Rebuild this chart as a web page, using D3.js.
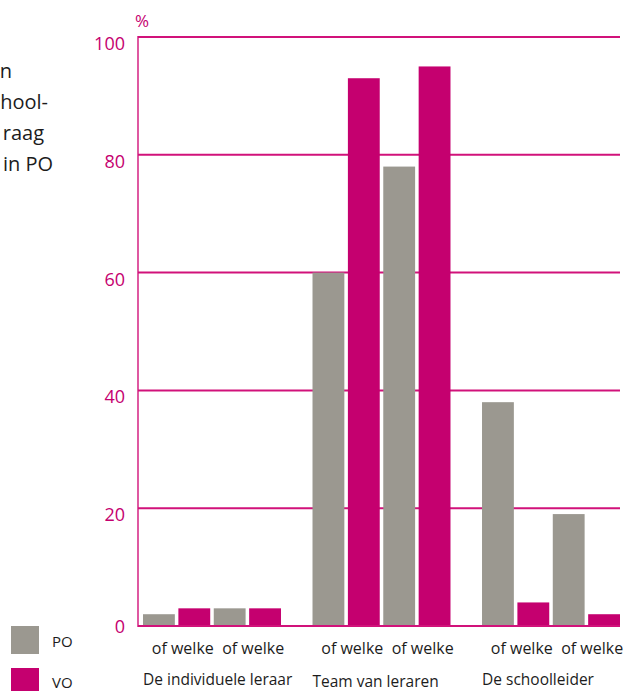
<!DOCTYPE html>
<html>
<head>
<meta charset="utf-8">
<script src="https://cdn.jsdelivr.net/npm/d3@7"></script>
<style>
  html, body { margin: 0; padding: 0; background: #fff; }
  svg { display: block; font-family: "Open Sans", "Noto Sans", sans-serif; }
</style>
</head>
<body>
<svg id="chart" width="632" height="691"></svg>
<script>
// ---- data ----
const groups = ["De individuele leraar", "Team van leraren", "De schoolleider"];
const pairLabels = ["of welke", "of welke"];
const seriesNames = ["PO", "VO"];
// values per group, per pair (pair 1, pair 2)
const poValues = [2, 3, 60, 78, 38, 19];
const voValues = [3, 3, 93, 95, 4, 2];
const yTicks = [0, 20, 40, 60, 80, 100];
const titleFragments = ["n", "hool-", "raag", "in PO"];

// ---- styling ----
const grey = "#9b9890";
const magenta = "#c5006f";
const lineColor = "#d1127a";
const textDark = "#1c1c1c";

const svg = d3.select("#chart");

const x0 = d3.scaleBand().domain(groups).range([143, 620]).paddingInner(0.186).paddingOuter(0);
const subKeys = ["PO0", "VO0", "PO1", "VO1"];
const x1 = d3.scaleBand().domain(subKeys).range([0, x0.bandwidth()]).paddingInner(0.1).paddingOuter(0);
const pairScale = d3.scaleBand().domain([0, 1]).range([0, x0.bandwidth()]).paddingInner(0.04);
const y = d3.scaleLinear().domain([0, 100]).range([626, 37]);

const axisLeftX = 138, gridRight = 620;

// gridlines
svg.append("g").selectAll("line").data(yTicks.filter(d => d > 0)).join("line")
  .attr("x1", axisLeftX).attr("x2", gridRight)
  .attr("y1", d => y(d)).attr("y2", d => y(d))
  .attr("stroke", lineColor).attr("stroke-width", 2);

// bars
const barData = [];
groups.forEach((g, gi) => {
  [0, 1].forEach(p => {
    barData.push({ g, key: "PO" + p, value: poValues[gi * 2 + p], color: grey });
    barData.push({ g, key: "VO" + p, value: voValues[gi * 2 + p], color: magenta });
  });
});
svg.append("g").selectAll("rect").data(barData).join("rect")
  .attr("x", d => x0(d.g) + x1(d.key))
  .attr("width", x1.bandwidth())
  .attr("y", d => y(d.value))
  .attr("height", d => y(0) - y(d.value))
  .attr("fill", d => d.color);

// axis lines
svg.append("line").attr("x1", axisLeftX).attr("x2", axisLeftX)
  .attr("y1", y(100) - 1).attr("y2", y(0) + 1)
  .attr("stroke", lineColor).attr("stroke-width", 1.4);
svg.append("line").attr("x1", axisLeftX).attr("x2", gridRight)
  .attr("y1", y(0)).attr("y2", y(0))
  .attr("stroke", lineColor).attr("stroke-width", 2);

// y tick labels
svg.append("g").selectAll("text").data(yTicks).join("text")
  .attr("x", 125)
  .attr("y", d => y(d) + (d === 0 ? 7 : 13))
  .attr("text-anchor", "end")
  .attr("font-size", 18)
  .attr("fill", magenta)
  .text(d => d);

svg.append("text").attr("x", 135).attr("y", 27)
  .attr("font-size", 17).attr("fill", magenta).text("%");

// pair labels
groups.forEach(g => {
  pairLabels.forEach((lab, p) => {
    svg.append("text")
      .attr("x", x0(g) + pairScale(p) + pairScale.bandwidth() / 2 + 6)
      .attr("y", 654)
      .attr("text-anchor", "middle")
      .attr("font-size", 16)
      .attr("fill", textDark)
      .text(lab);
  });
});

// group labels
svg.append("g").selectAll("text").data(groups).join("text")
  .attr("x", d => x0(d))
  .attr("y", (d, i) => i === 1 ? 687 : 685)
  .attr("font-size", 15.5)
  .attr("fill", textDark)
  .text(d => d);

// legend
const legend = svg.append("g");
seriesNames.forEach((name, i) => {
  legend.append("rect").attr("x", 11).attr("y", 626 + i * 42)
    .attr("width", 28).attr("height", 28)
    .attr("fill", i === 0 ? grey : magenta);
  legend.append("text").attr("x", 52).attr("y", 647 + i * 41)
    .attr("font-size", 15).attr("fill", textDark).text(name);
});

// truncated title text on the left
const titleRight = [12, 48, 44, 53];
svg.append("g").selectAll("text").data(titleFragments).join("text")
  .attr("x", (d, i) => titleRight[i])
  .attr("y", (d, i) => 78 + i * 31)
  .attr("text-anchor", "end")
  .attr("font-size", 20)
  .attr("fill", textDark)
  .text(d => d);
</script>
</body>
</html>
